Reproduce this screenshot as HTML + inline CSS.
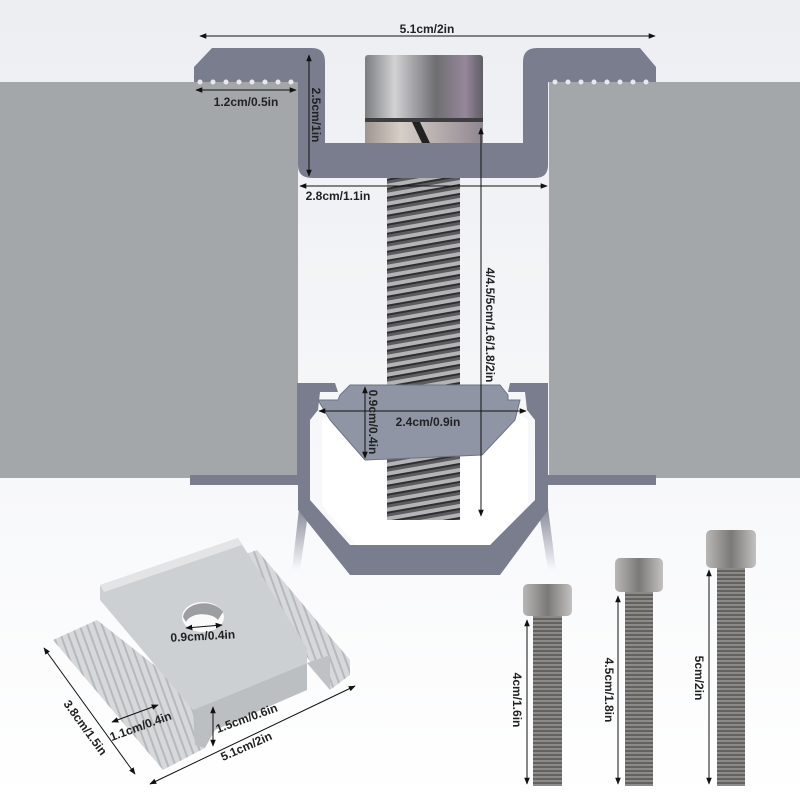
<!DOCTYPE html>
<html><head><meta charset="utf-8"><style>
html,body{margin:0;padding:0;background:#fff;}
svg{display:block;}
text{font-family:"Liberation Sans",sans-serif;font-weight:bold;font-size:12px;fill:#222;}
</style></head><body>
<svg width="800" height="800" viewBox="0 0 800 800" xmlns="http://www.w3.org/2000/svg">
<defs>
<linearGradient id="bg" x1="0" y1="0" x2="0" y2="1"><stop offset="0" stop-color="#eceef2"/><stop offset="0.6" stop-color="#f7f8fa"/><stop offset="1" stop-color="#fff"/></linearGradient>
<linearGradient id="head" x1="0" y1="0" x2="1" y2="0"><stop offset="0" stop-color="#7c7d80"/><stop offset="0.25" stop-color="#d2d2d4"/><stop offset="0.6" stop-color="#6f6e72"/><stop offset="0.85" stop-color="#96879a"/><stop offset="1" stop-color="#5f5d64"/></linearGradient>
<linearGradient id="neck" x1="0" y1="0" x2="1" y2="0"><stop offset="0" stop-color="#9d958f"/><stop offset="0.3" stop-color="#d6cfc7"/><stop offset="1" stop-color="#8f8790"/></linearGradient>
<linearGradient id="leg" x1="0" y1="0" x2="0" y2="1"><stop offset="0" stop-color="#7a7d8e"/><stop offset="1" stop-color="#7a7d8e" stop-opacity="0"/></linearGradient>
<pattern id="thr" width="10" height="9" patternUnits="userSpaceOnUse" patternTransform="skewY(-10)"><rect width="10" height="9" fill="#5c5c5f"/><rect y="0" width="10" height="4" fill="#b4b4b6"/><rect y="4" width="10" height="2" fill="#2e2e30"/></pattern>
<pattern id="bthr" width="6" height="4" patternUnits="userSpaceOnUse"><rect width="6" height="4" fill="#8d8b8a"/><rect y="2" width="6" height="2" fill="#64625f"/></pattern>
<linearGradient id="bh" x1="0" y1="0" x2="1" y2="0"><stop offset="0" stop-color="#b9b7b6"/><stop offset="0.5" stop-color="#7b7978"/><stop offset="1" stop-color="#c3c1c0"/></linearGradient>
<pattern id="rib" width="7" height="7" patternUnits="userSpaceOnUse" patternTransform="rotate(-20)"><rect width="7" height="7" fill="#d6d8da"/><rect width="2" height="7" fill="#b6b9bc"/></pattern>
<marker id="a" viewBox="0 0 10 10" refX="9" refY="5" markerWidth="7" markerHeight="7" orient="auto-start-reverse"><path d="M0,1 L10,5 L0,9 z" fill="#111"/></marker>
</defs>
<rect width="800" height="800" fill="url(#bg)"/>
<rect x="0" y="82" width="298" height="396" fill="#a4a7aa"/>
<rect x="549" y="82" width="251" height="396" fill="#a4a7aa"/>
<!-- legs fading -->
<path d="M300,500 L310,500 L300,570 L292,570 Z" fill="url(#leg)"/>
<path d="M537,500 L547,500 L556,570 L548,570 Z" fill="url(#leg)"/>
<!-- lower rail -->
<path d="M190,475 L297,475 L297,383 L335,383 L338,392 L320,392 L318,410 L310,420 L310,475 L310,500 L350,545 L490,545 L535,500 L535,420 L527,410 L525,392 L508,392 L510,383 L548,383 L548,475 L656,475 L656,485 L548,485 L548,510 L500,575 L350,575 L298,510 L298,485 L190,485 Z" fill="#7a7d8e"/>
<path d="M322,505 L355,545 L490,545 L528,505 L528,420 L520,415 L330,415 L322,420 Z" fill="#fff"/>
<rect x="387" y="178" width="73" height="342" fill="url(#thr)"/>
<path d="M350,385 L500,385 L508,395 L508,400 L520,400 L515,420 L482,455 L365,460 L330,420 L318,400 L338,400 L340,395 Z" fill="#8f95a5" stroke="#6f7384" stroke-width="1"/>
<!-- top clamp -->
<path d="M194,67 L212,48 L312,48 Q325,48 325,62 L325,143 L523,143 L523,62 Q523,48 537,48 L640,48 L656,67 L656,82 L548,82 L548,165 Q548,178 535,178 L312,178 Q298,178 298,165 L298,82 L194,82 Z" fill="#7a7d8e"/>
<g fill="#e8e9ee"><circle cx="200" cy="82" r="2.5"/><circle cx="213" cy="82" r="2.5"/><circle cx="226" cy="82" r="2.5"/><circle cx="239" cy="82" r="2.5"/><circle cx="252" cy="82" r="2.5"/><circle cx="265" cy="82" r="2.5"/><circle cx="278" cy="82" r="2.5"/><circle cx="291" cy="82" r="2.5"/>
<circle cx="555" cy="82" r="2.5"/><circle cx="568" cy="82" r="2.5"/><circle cx="581" cy="82" r="2.5"/><circle cx="594" cy="82" r="2.5"/><circle cx="607" cy="82" r="2.5"/><circle cx="620" cy="82" r="2.5"/><circle cx="633" cy="82" r="2.5"/><circle cx="646" cy="82" r="2.5"/></g>
<rect x="365" y="121" width="118" height="22" fill="url(#neck)"/>
<rect x="365" y="55" width="118" height="67" rx="3" fill="url(#head)"/>
<rect x="365" y="118" width="118" height="4" fill="#3e3d42"/>
<path d="M412,122 L420,122 L430,143 L422,143 Z" fill="#222"/>
<line x1="200" y1="36" x2="655" y2="36" stroke="#111" marker-start="url(#a)" marker-end="url(#a)"/>
<text x="427" y="33" text-anchor="middle">5.1cm/2in</text>
<line x1="196" y1="90" x2="296" y2="90" stroke="#111" marker-start="url(#a)" marker-end="url(#a)"/>
<text x="246" y="106" text-anchor="middle">1.2cm/0.5in</text>
<line x1="309" y1="55" x2="309" y2="176" stroke="#111" marker-start="url(#a)" marker-end="url(#a)"/>
<text transform="translate(312,115) rotate(90)" text-anchor="middle">2.5cm/1in</text>
<line x1="300" y1="186" x2="547" y2="186" stroke="#111" marker-start="url(#a)" marker-end="url(#a)"/>
<text x="338" y="200" text-anchor="middle">2.8cm/1.1in</text>
<line x1="481" y1="128" x2="481" y2="516" stroke="#111" marker-start="url(#a)" marker-end="url(#a)"/>
<text transform="translate(486,325) rotate(90)" text-anchor="middle">4/4.5/5cm/1.6/1.8/2in</text>
<line x1="319" y1="411" x2="526" y2="411" stroke="#111" marker-start="url(#a)" marker-end="url(#a)"/>
<text x="428" y="426" text-anchor="middle">2.4cm/0.9in</text>
<line x1="365" y1="387" x2="365" y2="458" stroke="#111" marker-start="url(#a)" marker-end="url(#a)"/>
<text transform="translate(369,422) rotate(90)" text-anchor="middle">0.9cm/0.4in</text>
<!-- clamp photo -->
<path d="M53,640 L97,620 L205,705 L205,748 L163,770 Z" fill="url(#rib)"/>
<path d="M237,557 L257,550 L350,660 L350,675 L330,690 Z" fill="url(#rib)"/>
<path d="M307,663 L330,690 L330,655 Z" fill="#bfc2c5"/>
<path d="M100,585 L238,538 L307,648 L307,663 L193,710 L100,600 Z" fill="#cdd0d2"/>
<path d="M100,585 L238,538 L242,545 L104,592 Z" fill="#e2e4e6"/>
<path d="M193,710 L307,663 L307,690 L215,730 L205,748 L195,745 Z" fill="#bcbfc2"/>
<ellipse cx="203" cy="617" rx="21" ry="15" fill="#fafafa"/>
<path d="M183,617 A21,15 0 0 1 223,612 L218,620 A17,10 0 0 0 186,622 Z" fill="#9c9ea1"/>
<line x1="186" y1="628" x2="222" y2="625" stroke="#111" marker-start="url(#a)" marker-end="url(#a)"/>
<text x="203" y="640" text-anchor="middle" transform="rotate(-3 203 640)">0.9cm/0.4in</text>
<line x1="44" y1="648" x2="135" y2="774" stroke="#111" marker-start="url(#a)" marker-end="url(#a)"/>
<text transform="translate(82,730) rotate(54)" text-anchor="middle">3.8cm/1.5in</text>
<line x1="112" y1="722" x2="158" y2="705" stroke="#111" marker-start="url(#a)" marker-end="url(#a)"/>
<text transform="translate(142,730) rotate(-20)" text-anchor="middle">1.1cm/0.4in</text>
<line x1="213" y1="707" x2="213" y2="746" stroke="#111" marker-start="url(#a)" marker-end="url(#a)"/>
<text transform="translate(248,722) rotate(-20)" text-anchor="middle">1.5cm/0.6in</text>
<line x1="150" y1="784" x2="355" y2="686" stroke="#111" marker-start="url(#a)" marker-end="url(#a)"/>
<text transform="translate(248,750) rotate(-24)" text-anchor="middle">5.1cm/2in</text>
<!-- bolts -->
<rect x="533" y="614" width="29" height="172" fill="url(#bthr)"/>
<rect x="523" y="584" width="49" height="32" rx="5" fill="url(#bh)"/>
<rect x="625" y="590" width="28" height="196" fill="url(#bthr)"/>
<rect x="615" y="558" width="48" height="34" rx="5" fill="url(#bh)"/>
<rect x="717" y="567" width="28" height="219" fill="url(#bthr)"/>
<rect x="706" y="530" width="50" height="38" rx="5" fill="url(#bh)"/>
<line x1="527" y1="620" x2="527" y2="784" stroke="#111" marker-start="url(#a)" marker-end="url(#a)"/>
<text transform="translate(513,700) rotate(90)" text-anchor="middle">4cm/1.6in</text>
<line x1="618" y1="596" x2="618" y2="784" stroke="#111" marker-start="url(#a)" marker-end="url(#a)"/>
<text transform="translate(605,690) rotate(90)" text-anchor="middle">4.5cm/1.8in</text>
<line x1="709" y1="570" x2="709" y2="784" stroke="#111" marker-start="url(#a)" marker-end="url(#a)"/>
<text transform="translate(695,678) rotate(90)" text-anchor="middle">5cm/2in</text>
</svg>
</body></html>
